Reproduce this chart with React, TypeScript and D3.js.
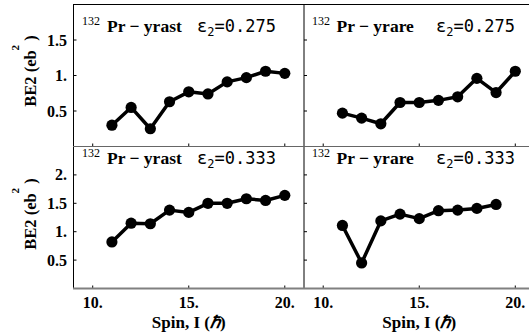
import React from "react";
import * as d3 from "d3";

const spins = [11, 12, 13, 14, 15, 16, 17, 18, 19, 20];
const yrast275 = [0.30, 0.55, 0.25, 0.63, 0.77, 0.74, 0.91, 0.97, 1.06, 1.03];
const yrare275 = [0.47, 0.40, 0.32, 0.62, 0.62, 0.65, 0.70, 0.96, 0.76, 1.06];
const yrast333 = [0.82, 1.15, 1.14, 1.38, 1.34, 1.50, 1.50, 1.58, 1.55, 1.64];
const yrare333 = [1.11, 0.45, 1.19, 1.31, 1.23, 1.37, 1.38, 1.41, 1.48];

const xTicks = [10, 15, 20];
const xTickLabels = ["10.", "15.", "20."];
const yTicksTop = [0.5, 1, 1.5];
const yTickLabelsTop = ["0.5", "1.", "1.5"];
const yTicksBottom = [0.5, 1, 1.5, 2];
const yTickLabelsBottom = ["0.5", "1.", "1.5", "2."];

const panelNames = ["yrast", "yrare", "yrast", "yrare"];
const epsLabels = ["0.275", "0.275", "0.333", "0.333"];

const serif = "Liberation Serif, Times New Roman, serif";
const mono = "DejaVu Sans Mono, Liberation Mono, monospace";

const colX0 = [73.5, 304];
const colW = 230.5;
const rowY = [
  { top: 4.5, bottom: 146.5, max: 2 },
  { top: 146.5, bottom: 288.5, max: 2.5 },
];

const serifBold = { fontFamily: serif, fontWeight: 700 as const };

export default function App() {
  const panels = [
    { row: 0, col: 0, data: yrast275 },
    { row: 0, col: 1, data: yrare275 },
    { row: 1, col: 0, data: yrast333 },
    { row: 1, col: 1, data: yrare333 },
  ];

  const xScales = colX0.map((x0) =>
    d3.scaleLinear().domain([9, 21]).range([x0, x0 + colW])
  );
  const yScales = rowY.map((r) =>
    d3.scaleLinear().domain([0, r.max]).range([r.bottom, r.top])
  );

  const titleOffsets = [
    { sup: 8.5, name: 33.5, eps: 123.5 },
    { sup: 8, name: 32.5, eps: 132 },
  ];
  const titleBase = [31.5, 163.5];

  return (
    <svg
      width={529}
      height={336}
      style={{ position: "fixed", left: 0, top: 0, background: "#fff" }}
    >
      <rect x={0} y={0} width={529} height={336} fill="#fff" />
      {panels.map((p, i) => {
        const xs = xScales[p.col];
        const ys = yScales[p.row];
        const pts = p.data.map((v, j) => [spins[j], v] as [number, number]);
        const line = d3
          .line<[number, number]>()
          .x((d) => xs(d[0]))
          .y((d) => ys(d[1]));
        const yt = p.row === 0 ? yTicksTop : yTicksBottom;
        const x0 = colX0[p.col];
        const r = rowY[p.row];
        const off = titleOffsets[p.col];
        const tb = titleBase[p.row];
        return (
          <g key={i}>
            {yt.map((t) => (
              <line
                key={"yt" + t}
                x1={x0}
                x2={x0 + 3}
                y1={ys(t)}
                y2={ys(t)}
                stroke="#000"
                strokeWidth={1}
              />
            ))}
            {xTicks.map((t) => (
              <line
                key={"xt" + t}
                x1={xs(t)}
                x2={xs(t)}
                y1={r.bottom}
                y2={r.bottom - 3}
                stroke="#000"
                strokeWidth={1}
              />
            ))}
            <path
              d={line(pts) || ""}
              fill="none"
              stroke="#000"
              strokeWidth={3.5}
              strokeLinejoin="round"
            />
            {pts.map((d, j) => (
              <circle key={j} cx={xs(d[0])} cy={ys(d[1])} r={5.6} fill="#000" />
            ))}
            <text
              x={x0 + off.sup}
              y={tb - 7}
              style={{ fontFamily: serif }}
              fontSize={12}
              fill="#000"
            >
              132
            </text>
            <text
              x={x0 + off.name}
              y={tb}
              style={serifBold}
              fontSize={17.5}
              fill="#000"
            >
              {"Pr \u2212 " + panelNames[i]}
            </text>
            <text
              x={x0 + off.eps}
              y={tb}
              style={{ fontFamily: mono }}
              fontSize={17}
              fill="#000"
            >
              {"\u03B5"}
              <tspan fontSize={12} dy={4}>
                2
              </tspan>
              <tspan dy={-4}>{"=" + epsLabels[i]}</tspan>
            </text>
          </g>
        );
      })}

      <line x1={73.5} x2={529} y1={4.5} y2={4.5} stroke="#000" strokeWidth={1} />
      <line x1={73.5} x2={73.5} y1={4} y2={289} stroke="#000" strokeWidth={1} />
      <line x1={304} x2={304} y1={4} y2={289} stroke="#000" strokeWidth={1} />
      <line x1={73} x2={529} y1={146.5} y2={146.5} stroke="#666" strokeWidth={1.2} />
      <line x1={73} x2={529} y1={288.5} y2={288.5} stroke="#808080" strokeWidth={2} />

      {yTicksTop.map((t, j) => (
        <text
          key={"ylt" + t}
          x={67}
          y={yScales[0](t) + 5.5}
          textAnchor="end"
          style={serifBold}
          fontSize={16}
          fill="#000"
        >
          {yTickLabelsTop[j]}
        </text>
      ))}
      {yTicksBottom.map((t, j) => (
        <text
          key={"ylb" + t}
          x={67}
          y={yScales[1](t) + 5.5}
          textAnchor="end"
          style={serifBold}
          fontSize={16}
          fill="#000"
        >
          {yTickLabelsBottom[j]}
        </text>
      ))}

      {xScales.map((xs, c) =>
        xTicks.map((t, j) => (
          <text
            key={"xl" + c + t}
            x={xs(t)}
            y={308}
            textAnchor="middle"
            style={serifBold}
            fontSize={16}
            fill="#000"
          >
            {xTickLabels[j]}
          </text>
        ))
      )}

      {xScales.map((xs, c) => (
        <text
          key={"xa" + c}
          x={xs(15)}
          y={328}
          textAnchor="middle"
          style={serifBold}
          fontSize={17}
          fill="#000"
        >
          {"Spin, I ("}
          <tspan fontStyle="italic">{"\u210F"}</tspan>
          {")"}
        </text>
      ))}

      {[71, 214].map((cy, k) => (
        <text
          key={"ya" + k}
          transform={`translate(35.5,${cy}) rotate(-90)`}
          textAnchor="middle"
          style={serifBold}
          fontSize={16.5}
          fill="#000"
        >
          {"BE2 (eb"}
          <tspan fontSize={11} dy={-17}>
            2
          </tspan>
          <tspan dy={17}>{" )"}</tspan>
        </text>
      ))}
    </svg>
  );
}
